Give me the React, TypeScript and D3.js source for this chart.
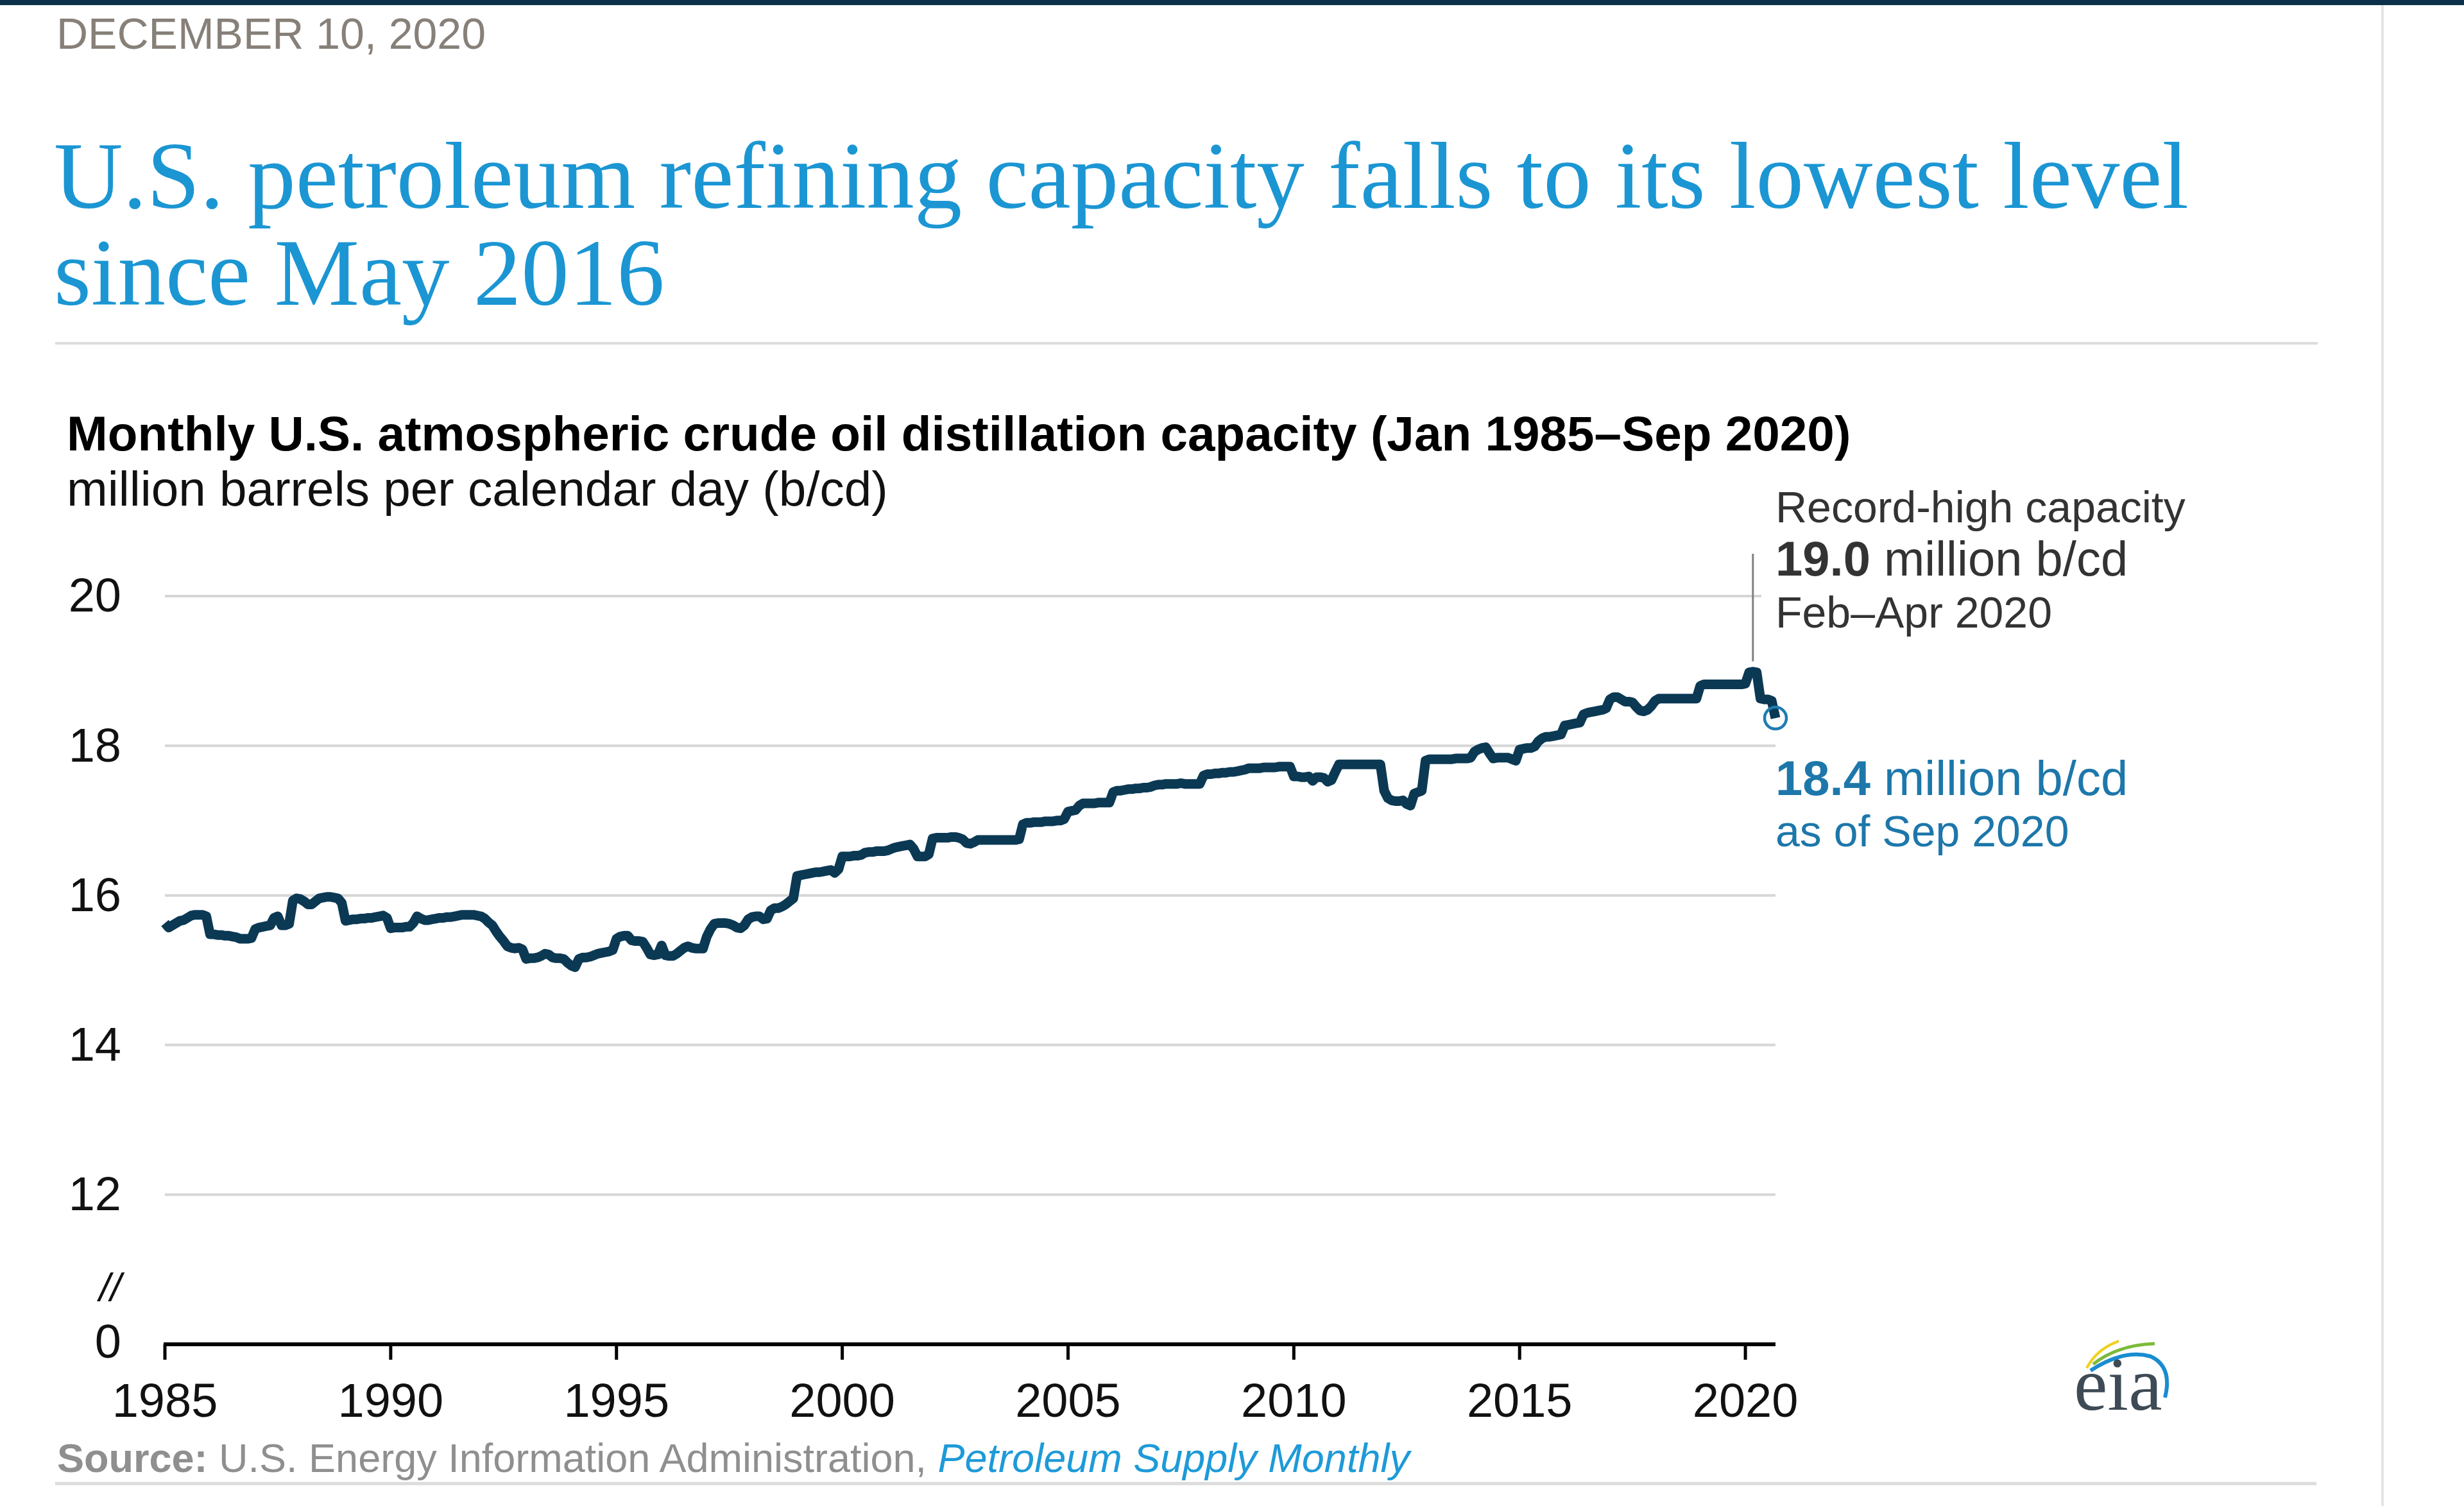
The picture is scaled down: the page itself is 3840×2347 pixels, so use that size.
import React from 'react';
import * as d3 from 'd3';

const W = 3840;
const H = 2347;

// Monthly U.S. atmospheric crude oil distillation capacity, million b/cd, Jan 1985 – Sep 2020
const startYear = 1985;
const capacity: number[] = [
  // 1985
  15.63, 15.57, 15.60, 15.63, 15.66, 15.67, 15.70, 15.73, 15.74, 15.74, 15.74, 15.72,
  // 1986
  15.48, 15.48, 15.47, 15.47, 15.46, 15.46, 15.45, 15.44, 15.42, 15.42, 15.42, 15.43,
  // 1987
  15.55, 15.57, 15.58, 15.59, 15.60, 15.70, 15.72, 15.60, 15.60, 15.62, 15.93, 15.96,
  // 1988
  15.95, 15.92, 15.88, 15.88, 15.92, 15.96, 15.97, 15.98, 15.98, 15.97, 15.96, 15.90,
  // 1989
  15.66, 15.67, 15.68, 15.68, 15.69, 15.69, 15.70, 15.70, 15.71, 15.72, 15.73, 15.70,
  // 1990
  15.56, 15.57, 15.57, 15.57, 15.58, 15.58, 15.63, 15.72, 15.69, 15.67, 15.67, 15.68,
  // 1991
  15.69, 15.70, 15.70, 15.71, 15.71, 15.72, 15.73, 15.74, 15.74, 15.74, 15.74, 15.73,
  // 1992
  15.72, 15.69, 15.64, 15.60, 15.52, 15.45, 15.39, 15.32, 15.30, 15.29, 15.30, 15.28,
  // 1993
  15.15, 15.16, 15.16, 15.17, 15.19, 15.22, 15.21, 15.17, 15.16, 15.16, 15.15, 15.10,
  // 1994
  15.06, 15.04, 15.15, 15.17, 15.17, 15.18, 15.20, 15.22, 15.23, 15.24, 15.25, 15.27,
  // 1995
  15.42, 15.45, 15.46, 15.46, 15.40, 15.39, 15.39, 15.38, 15.30, 15.21, 15.20, 15.21,
  // 1996
  15.33, 15.20, 15.19, 15.19, 15.22, 15.26, 15.30, 15.32, 15.30, 15.29, 15.29, 15.29,
  // 1997
  15.45, 15.55, 15.62, 15.63, 15.63, 15.63, 15.62, 15.60, 15.57, 15.56, 15.60, 15.68,
  // 1998
  15.71, 15.72, 15.72, 15.68, 15.69, 15.80, 15.83, 15.83, 15.85, 15.88, 15.92, 15.96,
  // 1999
  16.26, 16.27, 16.28, 16.29, 16.30, 16.31, 16.31, 16.32, 16.33, 16.34, 16.30, 16.35,
  // 2000
  16.52, 16.52, 16.52, 16.53, 16.53, 16.54, 16.57, 16.58, 16.58, 16.59, 16.59, 16.59,
  // 2001
  16.60, 16.62, 16.64, 16.65, 16.66, 16.67, 16.68, 16.62, 16.52, 16.52, 16.52, 16.55,
  // 2002
  16.76, 16.77, 16.77, 16.77, 16.77, 16.78, 16.78, 16.77, 16.75, 16.70, 16.69, 16.71,
  // 2003
  16.74, 16.74, 16.74, 16.74, 16.74, 16.74, 16.74, 16.74, 16.74, 16.74, 16.74, 16.75,
  // 2004
  16.95, 16.97, 16.97, 16.98, 16.98, 16.98, 16.99, 16.99, 16.99, 17.00, 17.00, 17.02,
  // 2005
  17.12, 17.13, 17.14, 17.20, 17.23, 17.23, 17.23, 17.23, 17.24, 17.24, 17.24, 17.24,
  // 2006
  17.38, 17.40, 17.40, 17.41, 17.42, 17.42, 17.43, 17.43, 17.44, 17.44, 17.45, 17.47,
  // 2007
  17.48, 17.48, 17.49, 17.49, 17.49, 17.49, 17.50, 17.49, 17.49, 17.49, 17.49, 17.49,
  // 2008
  17.60, 17.62, 17.62, 17.63, 17.63, 17.64, 17.64, 17.65, 17.65, 17.66, 17.67, 17.68,
  // 2009
  17.70, 17.70, 17.70, 17.70, 17.71, 17.71, 17.71, 17.71, 17.72, 17.72, 17.72, 17.72,
  // 2010
  17.59, 17.59, 17.58, 17.58, 17.59, 17.53, 17.58, 17.58, 17.57, 17.52, 17.54, 17.65,
  // 2011
  17.75, 17.75, 17.75, 17.75, 17.75, 17.75, 17.75, 17.75, 17.75, 17.75, 17.75, 17.75,
  // 2012
  17.40, 17.30, 17.27, 17.26, 17.26, 17.27, 17.22, 17.20, 17.36, 17.38, 17.40, 17.80,
  // 2013
  17.82, 17.82, 17.82, 17.82, 17.82, 17.82, 17.82, 17.83, 17.83, 17.83, 17.83, 17.84,
  // 2014
  17.92, 17.95, 17.97, 17.98, 17.90, 17.83, 17.84, 17.84, 17.84, 17.84, 17.82, 17.80,
  // 2015
  17.95, 17.96, 17.97, 17.97, 17.99, 18.06, 18.10, 18.12, 18.12, 18.13, 18.14, 18.15,
  // 2016
  18.27, 18.28, 18.29, 18.30, 18.31, 18.42, 18.44, 18.45, 18.46, 18.47, 18.48, 18.50,
  // 2017
  18.62, 18.65, 18.65, 18.62, 18.59, 18.59, 18.58, 18.52, 18.47, 18.46, 18.48, 18.53,
  // 2018
  18.60, 18.63, 18.63, 18.63, 18.63, 18.63, 18.63, 18.63, 18.63, 18.63, 18.63, 18.63,
  // 2019
  18.80, 18.82, 18.82, 18.82, 18.82, 18.82, 18.82, 18.82, 18.82, 18.82, 18.82, 18.82,
  // 2020 (Jan–Sep)
  18.83, 18.98, 18.99, 18.98, 18.63, 18.62, 18.62, 18.60, 18.37,
];

const yTicks = [12, 14, 16, 18, 20];
const yBreakValue = 10; // shown as "0" with a "//" axis break
const xTicks = [1985, 1990, 1995, 2000, 2005, 2010, 2015, 2020];

const recordPeriodMid = 2020 + 2 / 12; // Mar 2020 (centre of Feb–Apr 2020)
const recordValue = 19.0;

const SANS = "'Liberation Sans', Arial, Helvetica, sans-serif";
const SERIF = "'Liberation Serif', 'Times New Roman', serif";

export default function App() {
  const n = capacity.length;
  const t = (i: number) => startYear + i / 12;
  const x = d3.scaleLinear().domain([startYear, t(n - 1)]).range([257, 2767]);
  const y = d3.scaleLinear().domain([yBreakValue, 20]).range([2095, 929]);

  const linePath = d3
    .line<number>()
    .x((_, i) => x(t(i)))
    .y((d) => y(d))(capacity) as string;

  const x0 = x.range()[0];
  const x1 = x.range()[1];
  const lastX = x(t(n - 1));
  const lastY = y(capacity[n - 1]);
  const annX = x1;

  return (
    <svg
      width={W}
      height={H}
      viewBox={`0 0 ${W} ${H}`}
      style={{ position: 'absolute', left: 0, top: 0, display: 'block', background: '#fff' }}
    >
      <rect x={0} y={0} width={W} height={H} fill="#fff" />
      {/* top bar */}
      <rect x={0} y={0} width={W} height={8} fill="#0c2f4a" />
      {/* right border */}
      <line x1={3713} x2={3713} y1={8} y2={H} stroke="#e4e4e4" strokeWidth={4} />

      {/* date */}
      <text x={88} y={76} fontFamily={SANS} fontSize={68} fill="#878079">
        DECEMBER 10, 2020
      </text>

      {/* headline */}
      <text fontFamily={SERIF} fontSize={149} fill="#1b96d3">
        <tspan x={84} y={324}>U.S. petroleum refining capacity falls to its lowest level</tspan>
        <tspan x={84} y={475}>since May 2016</tspan>
      </text>
      <line x1={86} x2={3612} y1={535} y2={535} stroke="#dcdcdc" strokeWidth={4} />

      {/* chart title */}
      <text x={104} y={702} fontFamily={SANS} fontSize={76.5} fontWeight="bold" fill="#000">
        Monthly U.S. atmospheric crude oil distillation capacity (Jan 1985–Sep 2020)
      </text>
      <text x={104} y={788} fontFamily={SANS} fontSize={76.5} fill="#111">
        million barrels per calendar day (b/cd)
      </text>

      {/* gridlines */}
      {yTicks.map((v) => (
        <line key={v} x1={x0} x2={x1} y1={y(v)} y2={y(v)} stroke="#d6d6d6" strokeWidth={4} />
      ))}

      {/* y tick labels */}
      {yTicks.map((v) => (
        <text
          key={v}
          x={189}
          y={y(v)}
          dy="0.33em"
          textAnchor="end"
          fontFamily={SANS}
          fontSize={74}
          fill="#111"
        >
          {v}
        </text>
      ))}
      <text x={189} y={y(yBreakValue)} dy="0.28em" textAnchor="end" fontFamily={SANS} fontSize={74} fill="#111">
        0
      </text>
      <text x={189} y={y(yBreakValue) - 68} textAnchor="end" fontFamily={SANS} fontSize={62} fontStyle="italic" fill="#111">
        //
      </text>

      {/* x axis */}
      <line x1={x0 - 2} x2={x1} y1={y(yBreakValue)} y2={y(yBreakValue)} stroke="#000" strokeWidth={6} />
      {xTicks.map((yr) => (
        <g key={yr}>
          <line x1={x(yr)} x2={x(yr)} y1={y(yBreakValue)} y2={y(yBreakValue) + 24} stroke="#000" strokeWidth={5} />
          <text
            x={x(yr)}
            y={2208}
            textAnchor="middle"
            fontFamily={SANS}
            fontSize={74}
            fill="#111"
          >
            {yr}
          </text>
        </g>
      ))}

      {/* annotation background */}
      <rect x={2745} y={760} width={720} height={240} fill="#fff" />

      {/* data line */}
      <path d={linePath} fill="none" stroke="#0b3954" strokeWidth={15} strokeLinejoin="round" />

      {/* last point marker */}
      <circle cx={lastX} cy={lastY} r={17} fill="none" stroke="#1f7cb0" strokeWidth={4.5} />

      {/* record leader line */}
      <line
        x1={x(recordPeriodMid)}
        x2={x(recordPeriodMid)}
        y1={863}
        y2={y(recordValue) - 15}
        stroke="#808080"
        strokeWidth={3}
      />

      {/* record annotation */}
      <text fontFamily={SANS} fontSize={68} fill="#333">
        <tspan x={annX} y={814}>Record-high capacity</tspan>
        <tspan x={annX} y={897} fontSize={76}>
          <tspan fontWeight="bold">19.0</tspan> million b/cd
        </tspan>
        <tspan x={annX} y={978}>Feb–Apr 2020</tspan>
      </text>

      {/* latest annotation */}
      <text fontFamily={SANS} fontSize={68} fill="#1d77aa">
        <tspan x={annX} y={1239} fontSize={76}>
          <tspan fontWeight="bold">18.4</tspan> million b/cd
        </tspan>
        <tspan x={annX} y={1319}>as of Sep 2020</tspan>
      </text>

      {/* source */}
      <text x={89} y={2294} fontFamily={SANS} fontSize={63} fill="#8f8f8f">
        <tspan fontWeight="bold">Source:</tspan>
        <tspan> U.S. Energy Information Administration, </tspan>
        <tspan fontStyle="italic" fill="#1e9ad8">Petroleum Supply Monthly</tspan>
      </text>
      <line x1={86} x2={3610} y1={2312} y2={2312} stroke="#dcdcdc" strokeWidth={5} />

      {/* eia logo */}
      <g>
        <path d="M3252,2132 Q3268,2102 3302,2090" fill="none" stroke="#f0d01c" strokeWidth={4} />
        <path d="M3262,2126 Q3300,2096 3358,2094" fill="none" stroke="#7dba3a" strokeWidth={5} />
        <path d="M3258,2136 Q3310,2102 3352,2114 Q3386,2130 3374,2178" fill="none" stroke="#1a8cd0" strokeWidth={6} />
        <text x={3232} y={2197} fontFamily={SERIF} fontSize={118} fill="#3e4a55">
          eia
        </text>
      </g>
    </svg>
  );
}
